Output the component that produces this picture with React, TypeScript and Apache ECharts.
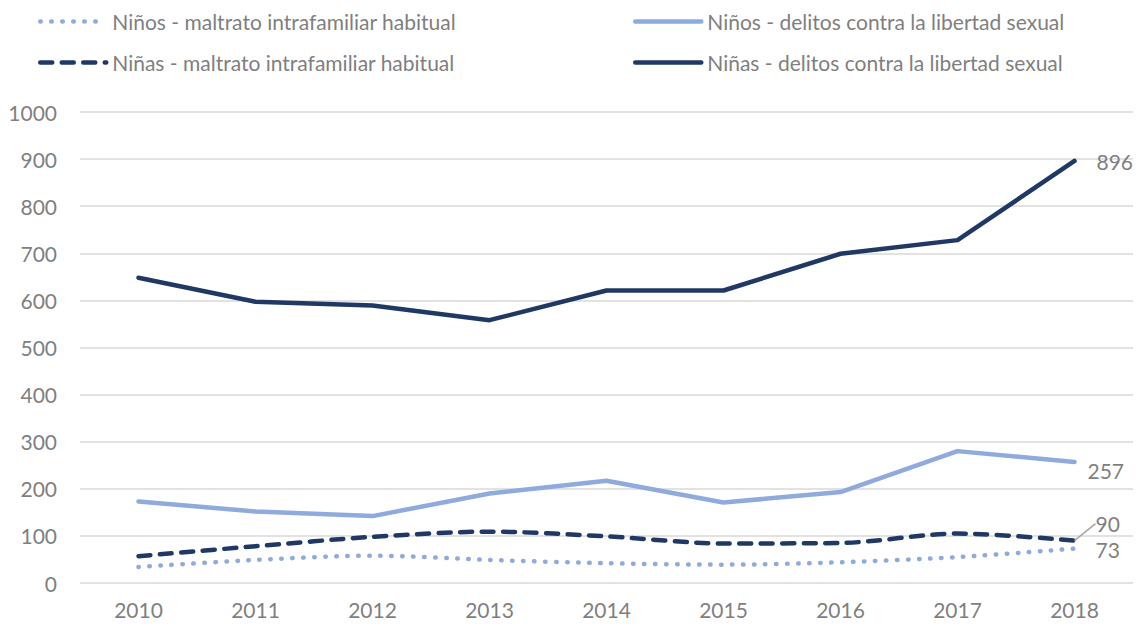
import React, { useEffect, useRef } from "react";
import * as echarts from "echarts";

const years = ["2010", "2011", "2012", "2013", "2014", "2015", "2016", "2017", "2018"];
const ninosMaltrato = [34, 49, 58, 49, 42, 39, 44, 55, 73];
const ninasMaltrato = [57, 78, 98, 109, 99, 84, 85, 105, 90];
const ninosDelitos = [173, 152, 142, 190, 217, 171, 193, 280, 257];
const ninasDelitos = [648, 597, 589, 558, 621, 621, 699, 728, 896];
const yTicks = { min: 0, max: 1000, interval: 100 };

const names = [
  "Niños - maltrato intrafamiliar habitual",
  "Niños - delitos contra la libertad sexual",
  "Niñas - maltrato intrafamiliar habitual",
  "Niñas - delitos contra la libertad sexual",
];

const LIGHT = "#8FAADC";
const DARK = "#203864";
const TEXT = "#7F7F7F";
const FONT = "Lato, 'Liberation Sans', sans-serif";
const FS = 21;

function withLastLabel(values: number[], labelOpts: any) {
  return values.map((v, i) =>
    i === values.length - 1 ? { value: v, label: { show: true, ...labelOpts } } : v
  );
}

export default function App() {
  const ref = useRef<HTMLDivElement>(null);
  useEffect(() => {
    if (!ref.current) return;
    const chart = echarts.init(ref.current, null, { renderer: "svg" });
    const labelBase = { color: TEXT, fontSize: FS, fontFamily: FONT };
    const legendBase = {
      itemWidth: 66,
      itemHeight: 14,
      itemGap: 0,
      itemStyle: { opacity: 0 },
      lineStyle: { width: 4.5, cap: "round" },
      textStyle: { color: TEXT, fontSize: FS, fontFamily: FONT, padding: [0, 0, 0, 1] },
    };
    const common = {
      type: "line",
      symbol: "circle",
      symbolSize: 0,
      showSymbol: true,
      label: { show: false },
      emphasis: { disabled: true },
    };
    chart.setOption({
      animation: false,
      textStyle: { fontFamily: FONT },
      legend: [
        { ...legendBase, data: [names[0]], left: 33, top: 6 },
        { ...legendBase, data: [names[1]], left: 628, top: 6 },
        { ...legendBase, data: [names[2]], left: 33, top: 47 },
        { ...legendBase, data: [names[3]], left: 628, top: 47 },
      ],
      grid: { left: 80, right: 3, top: 112, bottom: 41, containLabel: false },
      xAxis: {
        type: "category",
        data: years,
        boundaryGap: true,
        axisLine: { show: false },
        axisTick: { show: false },
        axisLabel: { color: TEXT, fontSize: FS, fontFamily: FONT, margin: 16 },
      },
      yAxis: {
        type: "value",
        min: yTicks.min,
        max: yTicks.max,
        interval: yTicks.interval,
        axisLine: { show: false },
        axisTick: { show: false },
        axisLabel: {
          color: TEXT,
          fontSize: FS,
          fontFamily: FONT,
          margin: 23,
          formatter: (v: number) => String(v),
        },
        splitLine: { lineStyle: { color: "#D9D9D9", width: 1.5 } },
      },
      series: [
        {
          ...common,
          name: names[0],
          smooth: 0.3,
          z: 2,
          lineStyle: { color: LIGHT, width: 4.5, type: [0.5, 10.5], cap: "round" },
          itemStyle: { color: LIGHT },
          data: withLastLabel(ninosMaltrato, { ...labelBase, position: "right", offset: [16, 1] }),
        },
        {
          ...common,
          name: names[1],
          z: 3,
          lineStyle: { color: LIGHT, width: 4.5, cap: "round", join: "round" },
          itemStyle: { color: LIGHT },
          data: withLastLabel(ninosDelitos, { ...labelBase, position: "right", offset: [8, 9] }),
        },
        {
          ...common,
          name: names[2],
          smooth: 0.3,
          z: 4,
          lineStyle: { color: DARK, width: 4.5, type: [12, 9.5], cap: "round" },
          itemStyle: { color: DARK },
          labelLine: { show: true, lineStyle: { color: "#A6A6A6", width: 1.5 } },
          labelLayout: (params: any) =>
            params.dataIndex === ninasMaltrato.length - 1 ? { dx: 16, dy: -17 } : {},
          data: withLastLabel(ninasMaltrato, { ...labelBase, position: "right", offset: [6, 0] }),
        },
        {
          ...common,
          name: names[3],
          z: 5,
          lineStyle: { color: DARK, width: 4.5, cap: "round", join: "round" },
          itemStyle: { color: DARK },
          data: withLastLabel(ninasDelitos, { ...labelBase, position: "right", offset: [17, 1] }),
        },
      ],
    });
    return () => chart.dispose();
  }, []);
  return (
    <div
      ref={ref}
      style={{ position: "absolute", left: 0, top: 0, width: 1136, height: 624 }}
    />
  );
}
